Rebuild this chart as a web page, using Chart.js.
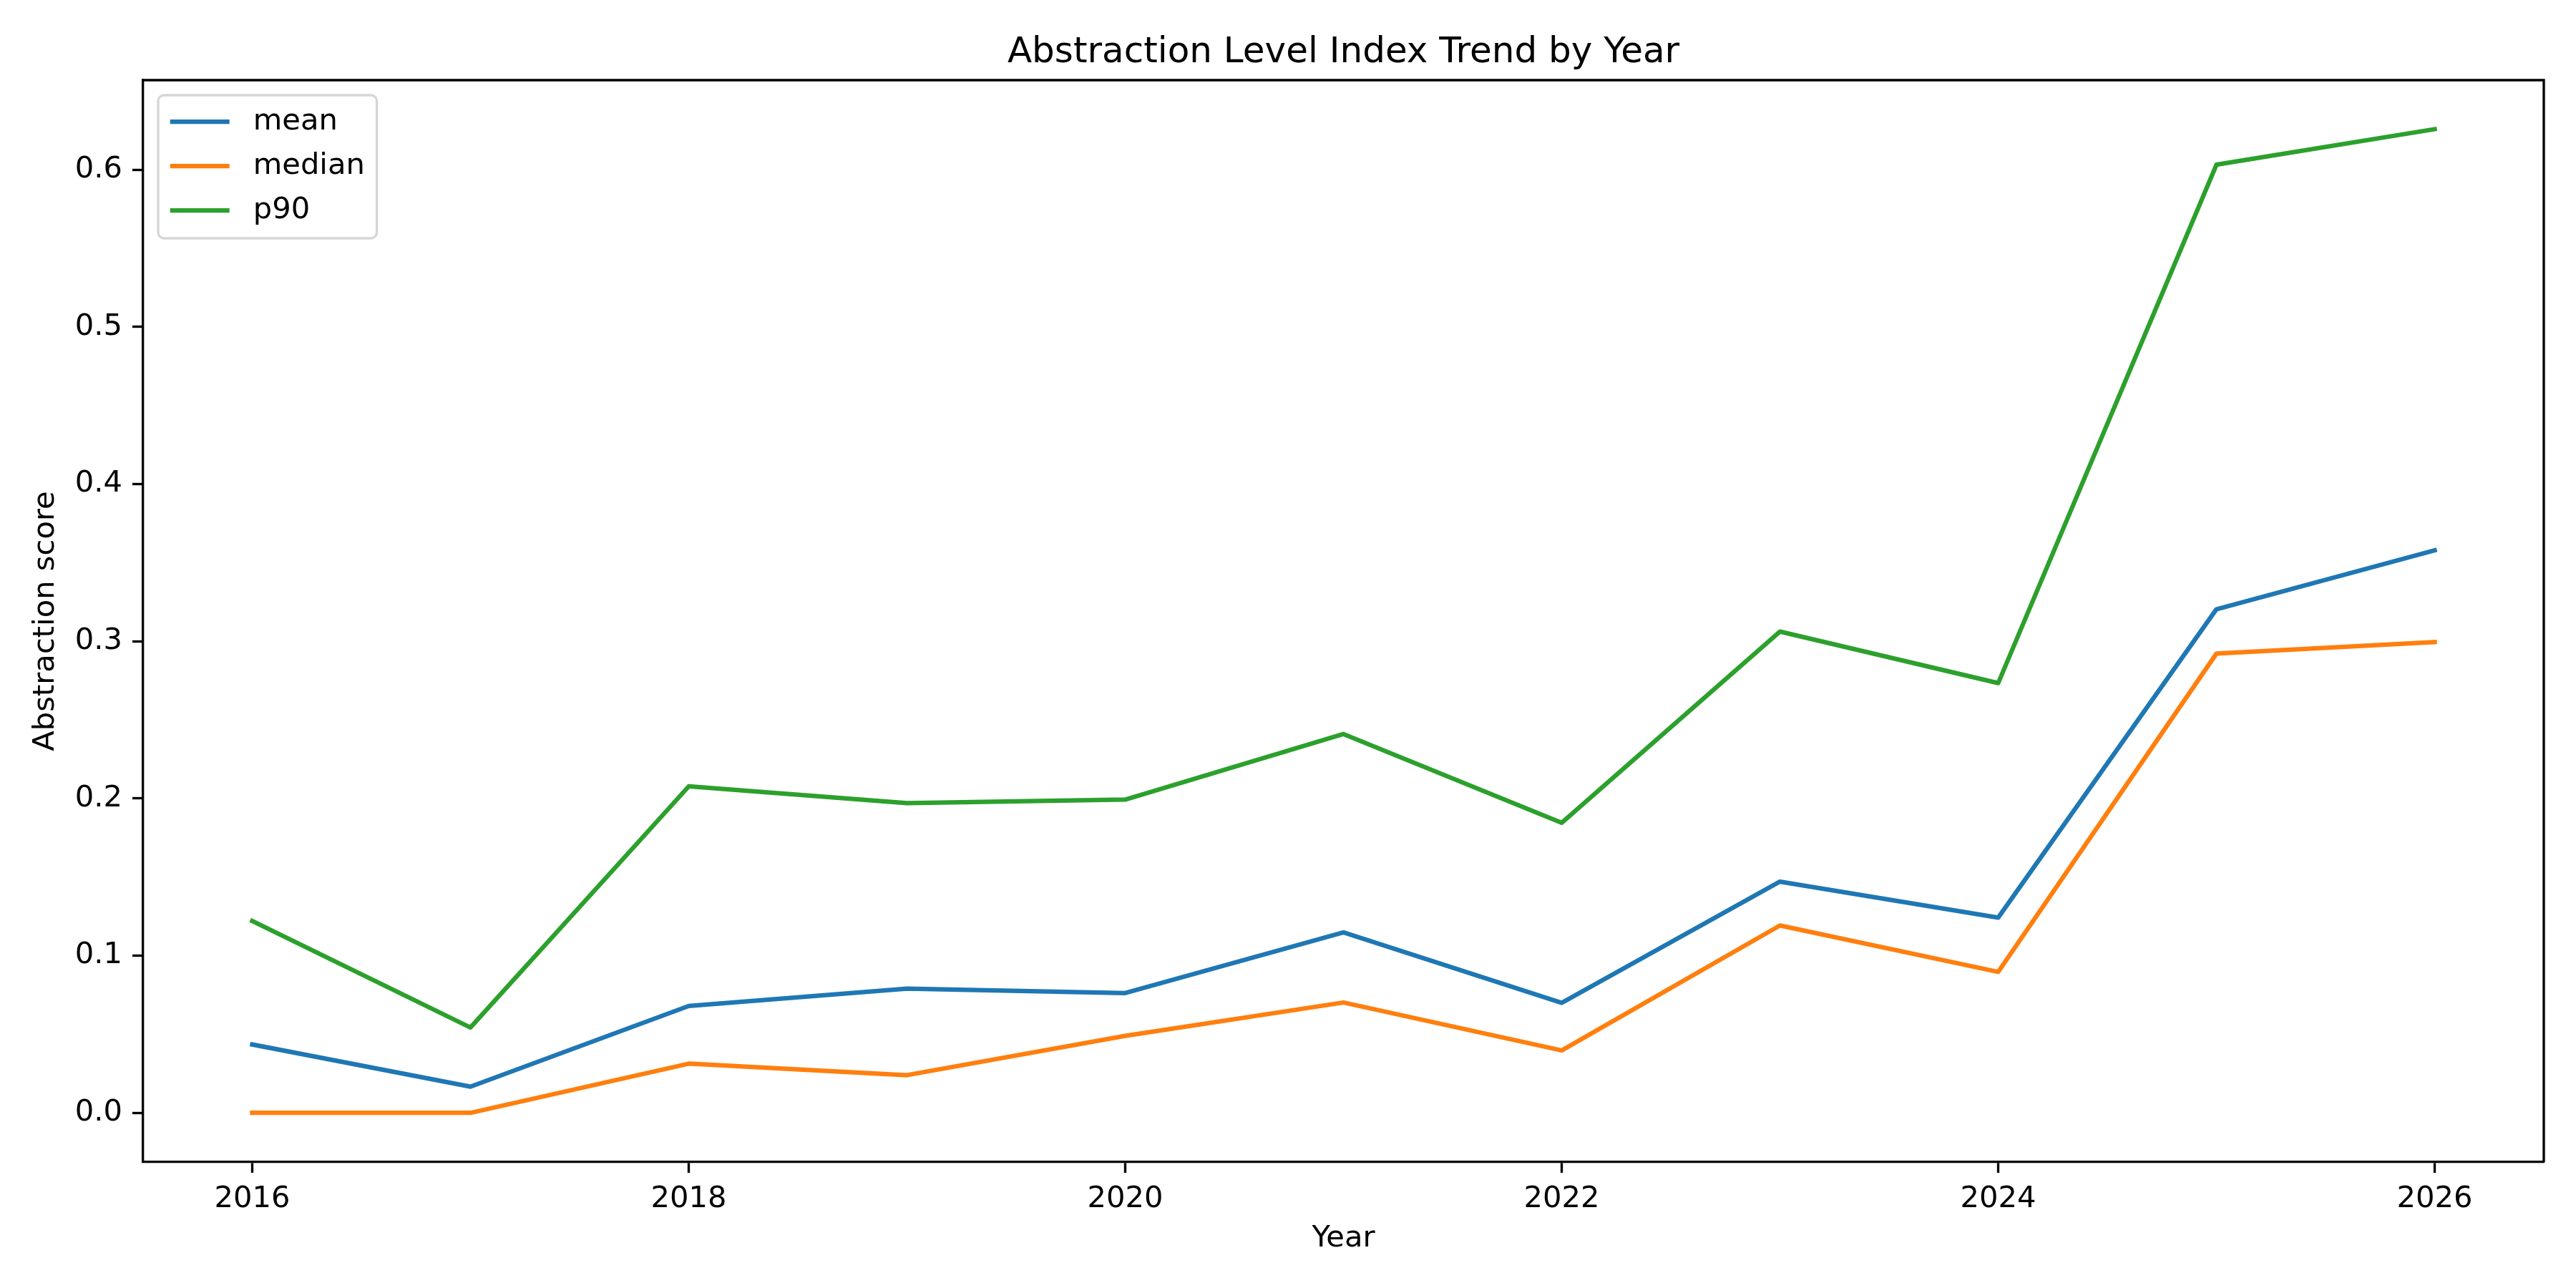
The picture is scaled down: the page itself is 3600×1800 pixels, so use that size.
<!DOCTYPE html>
<html>
<head>
<meta charset="utf-8">
<script src="https://cdn.jsdelivr.net/npm/chart.js@4/dist/chart.umd.min.js"></script>
<style>
  html, body { margin: 0; padding: 0; background: #fff; }
  #wrap { width: 3600px; height: 1800px; }
</style>
</head>
<body>
<div id="wrap"><canvas id="myChart" width="3600" height="1800"></canvas></div>
<script>
// data
const years = [2016, 2017, 2018, 2019, 2020, 2021, 2022, 2023, 2024, 2025, 2026]
const mean = [0.0435, 0.0167, 0.0680, 0.0790, 0.0762, 0.1148, 0.0700, 0.1471, 0.1242, 0.3204, 0.3579]
const median = [0.0, 0.0, 0.0313, 0.0240, 0.0490, 0.0702, 0.0397, 0.1192, 0.0897, 0.2922, 0.2995]
const p90 = [0.1221, 0.0543, 0.2077, 0.1970, 0.1993, 0.2410, 0.1845, 0.3062, 0.2734, 0.6032, 0.6258]
const xTicks = [2016, 2018, 2020, 2022, 2024, 2026]
const yTicks = [0.0, 0.1, 0.2, 0.3, 0.4, 0.5, 0.6]
const chartTitle = 'Abstraction Level Index Trend by Year'

const FONT = 'DejaVu Sans'
const fs = 41.67
const lw = 6.25
const spine = 3.33

Chart.defaults.font.family = FONT
Chart.defaults.color = '#000'

const ctx = document.getElementById('myChart').getContext('2d')

function pts(arr) {
    return arr.map((v, i) => ({ x: years[i], y: v }))
}

// top and right spines, plus title centred over the axes like matplotlib
const frame = {
    id: 'frame',
    afterDatasetsDraw(chart) {
        const { ctx, chartArea: a } = chart
        ctx.save()
        ctx.strokeStyle = '#000'
        ctx.lineWidth = spine
        ctx.beginPath()
        ctx.moveTo(a.left, a.top)
        ctx.lineTo(a.right, a.top)
        ctx.lineTo(a.right, a.bottom)
        ctx.stroke()
        ctx.fillStyle = '#000'
        ctx.font = '50px "' + FONT + '"'
        ctx.textAlign = 'center'
        ctx.textBaseline = 'alphabetic'
        ctx.fillText(chartTitle, (a.left + a.right) / 2, a.top - 25)
        ctx.restore()
    },
}

// matplotlib-ish legend inside the upper left corner
const innerLegend = {
    id: 'innerLegend',
    afterDraw(chart) {
        const { ctx, chartArea: a } = chart
        const sets = chart.data.datasets
        ctx.save()
        ctx.font = fs + 'px "' + FONT + '"'
        let tw = 0
        sets.forEach((d) => { tw = Math.max(tw, ctx.measureText(d.label).width) })
        const x0 = a.left + 21, y0 = a.top + 21
        const pad = 16.7, handle = 83, gap = 33, rowH = 62
        const w = pad * 2 + handle + gap + tw
        const h = 200
        const r = 8.3
        ctx.beginPath()
        ctx.roundRect(x0, y0, w, h, r)
        ctx.fillStyle = 'rgba(255,255,255,0.8)'
        ctx.fill()
        ctx.strokeStyle = 'rgba(204,204,204,0.8)'
        ctx.lineWidth = spine
        ctx.stroke()
        sets.forEach((d, i) => {
            const cy = y0 + 37 + i * rowH
            ctx.strokeStyle = d.borderColor
            ctx.lineWidth = lw
            ctx.beginPath()
            ctx.moveTo(x0 + pad, cy)
            ctx.lineTo(x0 + pad + handle, cy)
            ctx.stroke()
            ctx.fillStyle = '#000'
            ctx.textBaseline = 'middle'
            ctx.textAlign = 'left'
            ctx.fillText(d.label, x0 + pad + handle + gap, cy)
        })
        ctx.restore()
    },
}

const lineStyle = {
    borderWidth: lw,
    pointRadius: 0,
    tension: 0,
    fill: false,
    borderCapStyle: 'square',
    borderJoinStyle: 'round',
}

new Chart(ctx, {
    type: 'line',
    data: {
        datasets: [
            { label: 'mean', data: pts(mean), borderColor: '#1f77b4', ...lineStyle },
            { label: 'median', data: pts(median), borderColor: '#ff7f0e', ...lineStyle },
            { label: 'p90', data: pts(p90), borderColor: '#2ca02c', ...lineStyle },
        ],
    },
    options: {
        responsive: false,
        devicePixelRatio: 1,
        animation: false,
        layout: { padding: { left: 0, right: 45, top: 112, bottom: 0 } },
        plugins: {
            legend: { display: false },
            tooltip: { enabled: false },
            title: { display: false },
        },
        scales: {
            x: {
                type: 'linear',
                min: 2015.5,
                max: 2026.5,
                afterBuildTicks: (s) => { s.ticks = xTicks.map((v) => ({ value: v })) },
                afterFit: (s) => { s.height = 176 },
                ticks: {
                    callback: (v) => String(v),
                    font: { size: fs },
                    color: '#000',
                    padding: 12,
                    maxRotation: 0,
                    autoSkip: false,
                },
                grid: {
                    drawOnChartArea: false,
                    drawTicks: true,
                    tickLength: 15,
                    tickWidth: spine,
                    tickColor: '#000',
                },
                border: { display: true, color: '#000', width: spine },
                title: {
                    display: true,
                    text: 'Year',
                    font: { size: fs },
                    color: '#000',
                    padding: { top: 0, bottom: 44 },
                },
            },
            y: {
                type: 'linear',
                min: -0.0313,
                max: 0.657,
                afterBuildTicks: (s) => { s.ticks = yTicks.map((v) => ({ value: v })) },
                afterFit: (s) => { s.width = 200 },
                ticks: {
                    callback: (v) => v.toFixed(1),
                    font: { size: fs },
                    color: '#000',
                    padding: 14,
                    autoSkip: false,
                },
                grid: {
                    drawOnChartArea: false,
                    drawTicks: true,
                    tickLength: 15,
                    tickWidth: spine,
                    tickColor: '#000',
                },
                border: { display: true, color: '#000', width: spine },
                title: {
                    display: true,
                    text: 'Abstraction score',
                    font: { size: fs },
                    color: '#000',
                    padding: { top: 39, bottom: 0 },
                },
            },
        },
    },
    plugins: [frame, innerLegend],
})
</script>
</body>
</html>
